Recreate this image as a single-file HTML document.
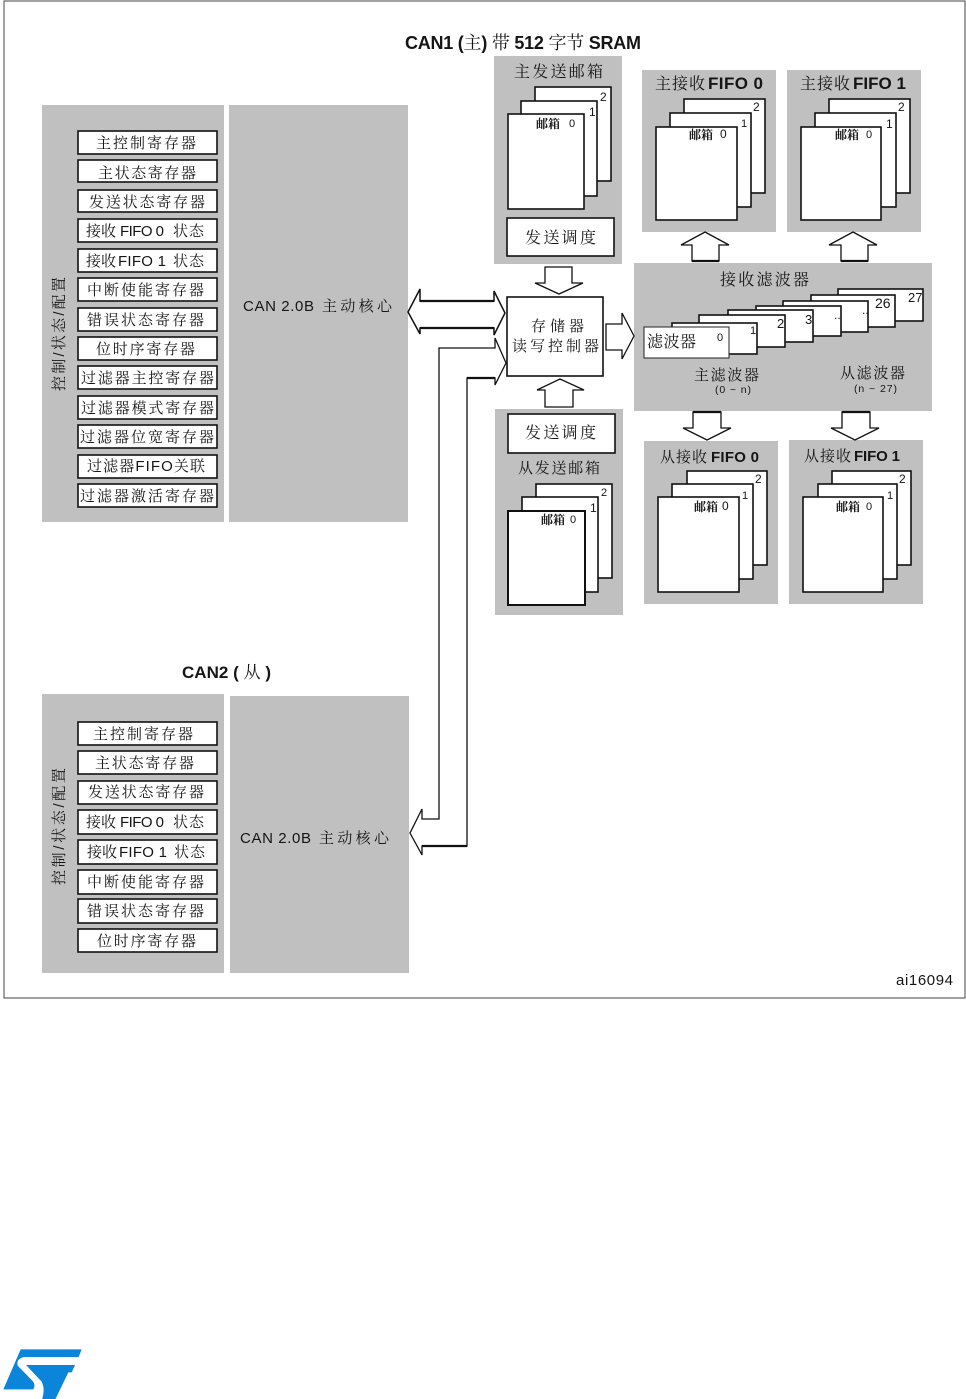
<!DOCTYPE html>
<html><head><meta charset="utf-8"><style>
html,body{margin:0;padding:0;background:#fff;width:966px;height:1399px;overflow:hidden}
svg{display:block}
text{font-family:"Liberation Sans","Noto Serif CJK SC",sans-serif;fill:#151515;font-size:15px}
.g{fill:#c0c0c0}
.b{fill:#fff;stroke:#111;stroke-width:1.6}
.a{fill:#fff;stroke:#111;stroke-width:1.3;stroke-linejoin:miter}
.t{stroke:#111;stroke-width:2.2;fill:none}
.s{font-size:11px}
.m{font-size:12px;font-weight:bold}
.f{font-weight:bold;font-size:15px}
</style></head><body>
<svg width="966" height="1399" viewBox="0 0 966 1399" xmlns="http://www.w3.org/2000/svg">
<rect x="4" y="1" width="961" height="997" fill="#fff" stroke="#444" stroke-width="1"/>

<!-- panels -->
<rect class="g" x="42" y="105" width="182" height="417"/>
<rect class="g" x="229" y="105" width="179" height="417"/>
<rect class="g" x="494" y="56" width="128" height="208"/>
<rect class="g" x="642" y="70" width="134" height="162"/>
<rect class="g" x="787" y="70" width="134" height="162"/>
<rect class="g" x="634" y="263" width="298" height="148"/>
<rect class="g" x="495" y="409" width="128" height="206"/>
<rect class="g" x="644" y="441" width="134" height="163"/>
<rect class="g" x="789" y="440" width="134" height="164"/>
<rect class="g" x="42" y="694" width="182" height="279"/>
<rect class="g" x="230" y="696" width="179" height="277"/>

<!-- titles -->
<text x="405" y="49" style="font-size:18px;font-weight:bold" textLength="236" lengthAdjust="spacing">CAN1 (<tspan font-weight="normal">主</tspan>) <tspan font-weight="normal">带</tspan> 512 <tspan font-weight="normal">字节</tspan> SRAM</text>
<text x="182" y="678" style="font-size:17px;font-weight:bold" textLength="89" lengthAdjust="spacing">CAN2 ( <tspan font-weight="normal">从</tspan> )</text>
<text x="896" y="985" style="font-size:15px" textLength="57" lengthAdjust="spacing">ai16094</text>

<!-- CAN1 registers -->
<rect class="b" x="78" y="131" width="139" height="23"/><text x="96" y="148" textLength="100">主控制寄存器</text>
<rect class="b" x="78" y="160" width="139" height="22"/><text x="98" y="178" textLength="98">主状态寄存器</text>
<rect class="b" x="78" y="190" width="139" height="22"/><text x="89" y="207" textLength="116">发送状态寄存器</text>
<rect class="b" x="78" y="219" width="139" height="23"/><text x="86" y="236" textLength="30">接收</text><text x="120" y="236" textLength="44">FIFO 0</text><text x="173" y="236" textLength="31">状态</text>
<rect class="b" x="78" y="249" width="139" height="23"/><text x="86" y="266" textLength="30">接收</text><text x="118" y="266" textLength="48">FIFO 1</text><text x="173" y="266" textLength="31">状态</text>
<rect class="b" x="78" y="278" width="139" height="23"/><text x="87" y="295" textLength="117">中断使能寄存器</text>
<rect class="b" x="78" y="308" width="139" height="23"/><text x="87" y="325" textLength="117">错误状态寄存器</text>
<rect class="b" x="78" y="337" width="139" height="23"/><text x="96" y="354" textLength="99">位时序寄存器</text>
<rect class="b" x="78" y="366" width="139" height="23"/><text x="81" y="383" textLength="133">过滤器主控寄存器</text>
<rect class="b" x="78" y="396" width="139" height="23"/><text x="81" y="413" textLength="133">过滤器模式寄存器</text>
<rect class="b" x="78" y="425" width="139" height="23"/><text x="80" y="442" textLength="134">过滤器位宽寄存器</text>
<rect class="b" x="78" y="455" width="139" height="23"/><text x="87" y="471" textLength="118">过滤器FIFO关联</text>
<rect class="b" x="78" y="484" width="139" height="23"/><text x="80" y="501" textLength="134">过滤器激活寄存器</text>

<!-- CAN2 registers -->
<rect class="b" x="78" y="722" width="139" height="23"/><text x="93" y="739" textLength="100">主控制寄存器</text>
<rect class="b" x="78" y="751" width="139" height="23"/><text x="95" y="768" textLength="99">主状态寄存器</text>
<rect class="b" x="78" y="781" width="139" height="23"/><text x="88" y="797" textLength="116">发送状态寄存器</text>
<rect class="b" x="78" y="810" width="139" height="24"/><text x="86" y="827" textLength="30">接收</text><text x="120" y="827" textLength="44">FIFO 0</text><text x="173" y="827" textLength="31">状态</text>
<rect class="b" x="78" y="840" width="139" height="24"/><text x="87" y="857" textLength="30">接收</text><text x="119" y="857" textLength="48">FIFO 1</text><text x="174" y="857" textLength="31">状态</text>
<rect class="b" x="78" y="870" width="139" height="24"/><text x="87" y="887" textLength="117">中断使能寄存器</text>
<rect class="b" x="78" y="899" width="139" height="24"/><text x="87" y="916" textLength="117">错误状态寄存器</text>
<rect class="b" x="78" y="929" width="139" height="23"/><text x="97" y="946" textLength="99">位时序寄存器</text>

<!-- vertical labels -->
<text transform="translate(64,391) rotate(-90)" textLength="114">控制/状态/配置</text>
<text transform="translate(64,885) rotate(-90)" textLength="117">控制/状态/配置</text>

<!-- core labels -->
<text x="243" y="311" textLength="71">CAN 2.0B</text><text x="322" y="311" textLength="70">主动核心</text>
<text x="240" y="843" textLength="71">CAN 2.0B</text><text x="319" y="843" textLength="70">主动核心</text>

<!-- main TX -->
<text x="514" y="77" style="font-size:16px" textLength="89">主发送邮箱</text>
<rect class="b" x="535" y="87" width="76" height="94"/><text x="600" y="101" style="font-size:12px">2</text>
<rect class="b" x="521" y="101" width="76" height="95"/><text x="589" y="116" style="font-size:12px">1</text>
<rect class="b" x="508" y="114" width="76" height="95"/><text x="536" y="128" class="m">邮箱</text><text x="569" y="127" class="s">0</text>
<rect class="b" x="507" y="218" width="107" height="38"/><text x="525" y="243" style="font-size:16px" textLength="71">发送调度</text>

<!-- main RX0 -->
<text x="655" y="89" style="font-size:16px" textLength="50">主接收</text><text x="708" y="89" class="f" style="font-size:17px" textLength="55">FIFO 0</text>
<rect class="b" x="684" y="99" width="81" height="94"/><text x="753" y="111" style="font-size:12px">2</text>
<rect class="b" x="670" y="113" width="81" height="94"/><text x="741" y="127" class="s">1</text>
<rect class="b" x="656" y="127" width="81" height="93"/><text x="689" y="139" class="m">邮箱</text><text x="720" y="138" style="font-size:12px">0</text>

<!-- main RX1 -->
<text x="800" y="89" style="font-size:16px" textLength="50">主接收</text><text x="853" y="89" class="f" style="font-size:17px" textLength="53">FIFO 1</text>
<rect class="b" x="829" y="99" width="81" height="94"/><text x="898" y="111" style="font-size:12px">2</text>
<rect class="b" x="815" y="113" width="81" height="94"/><text x="886" y="128" style="font-size:12px">1</text>
<rect class="b" x="801" y="127" width="80" height="93"/><text x="835" y="139" class="m">邮箱</text><text x="866" y="138" class="s">0</text>

<!-- filter bank -->
<text x="720" y="285" style="font-size:16px" textLength="89">接收滤波器</text>
<rect class="b" x="838" y="289" width="85" height="32"/><text x="908" y="302" style="font-size:13px">27</text>
<rect class="b" x="811" y="295" width="84" height="32"/><text x="875" y="308" style="font-size:14px">26</text>
<rect class="b" x="783" y="301" width="85" height="31"/><text x="862" y="314" style="font-size:12px">..</text>
<rect class="b" x="756" y="306" width="85" height="30"/><text x="834" y="319" style="font-size:12px">..</text>
<rect class="b" x="728" y="310" width="85" height="32"/><text x="805" y="324" style="font-size:13px">3</text>
<rect class="b" x="699" y="315" width="86" height="32"/><text x="777" y="328" style="font-size:13px">2</text>
<rect class="b" x="672" y="323" width="85" height="31"/><text x="750" y="334" class="s">1</text>
<rect x="644" y="327" width="85" height="31" fill="#fff" stroke="#222" stroke-width="1"/><text x="647" y="347" style="font-size:16px" textLength="49">滤波器</text><text x="717" y="341" class="s">0</text>
<text x="694" y="380" style="font-size:15px" textLength="65">主滤波器</text>
<text x="715" y="393" style="font-size:10.5px" textLength="36">(0 ~ n)</text>
<text x="840" y="378" style="font-size:15px" textLength="65">从滤波器</text>
<text x="854" y="392" style="font-size:10.5px" textLength="43">(n ~ 27)</text>

<!-- slave TX -->
<rect class="b" x="508" y="414" width="107" height="39"/><text x="525" y="438" style="font-size:16px" textLength="71">发送调度</text>
<text x="518" y="473" style="font-size:15px" textLength="82">从发送邮箱</text>
<rect class="b" x="536" y="484" width="76" height="94"/><text x="601" y="496" class="s">2</text>
<rect class="b" x="522" y="497" width="76" height="95"/><text x="590" y="512" style="font-size:12px">1</text>
<rect class="b" x="508" y="511" width="77" height="94" style="stroke-width:2"/><text x="541" y="524" class="m">邮箱</text><text x="570" y="523" class="s">0</text>

<!-- slave RX0 -->
<text x="660" y="462" style="font-size:15px" textLength="47">从接收</text><text x="711" y="462" class="f" style="font-size:15px" textLength="48">FIFO 0</text>
<rect class="b" x="687" y="471" width="80" height="94"/><text x="755" y="483" style="font-size:12px">2</text>
<rect class="b" x="672" y="484" width="81" height="95"/><text x="742" y="499" class="s">1</text>
<rect class="b" x="658" y="497" width="81" height="95"/><text x="694" y="511" class="m">邮箱</text><text x="722" y="510" style="font-size:12px">0</text>

<!-- slave RX1 -->
<text x="804" y="461" style="font-size:15px" textLength="47">从接收</text><text x="854" y="461" class="f" style="font-size:15px" textLength="46">FIFO 1</text>
<rect class="b" x="832" y="471" width="79" height="94"/><text x="899" y="483" style="font-size:12px">2</text>
<rect class="b" x="818" y="484" width="79" height="95"/><text x="887" y="499" class="s">1</text>
<rect class="b" x="803" y="497" width="80" height="95"/><text x="836" y="511" class="m">邮箱</text><text x="866" y="510" class="s">0</text>

<!-- controller -->
<rect class="b" x="507" y="297" width="96" height="79"/>
<text x="531" y="331" style="font-size:15px" textLength="53">存储器</text>
<text x="512" y="351" style="font-size:15px" textLength="87">读写控制器</text>

<!-- block arrows -->
<polygon class="a" points="545,267 572,267 572,283 583,283 559,294 535,283 545,283"/>
<polygon class="a" points="560,379 584,390 573,390 573,407 545,407 545,390 537,390"/>
<polygon class="a" points="606,324 622,324 622,313 634,336 622,359 622,350 606,350"/>
<polygon class="a" points="705,232 729,245 719,245 719,261 692,261 692,245 681,245"/>
<polygon class="a" points="853,232 877,245 868,245 868,261 841,261 841,245 829,245"/>
<polygon class="a" points="693,412 721,412 721,428 731,428 707,440 683,428 693,428"/>
<polygon class="a" points="842,412 870,412 870,428 879,428 855,440 831,428 842,428"/>
<polygon class="a" style="stroke-width:1.5" points="408,312 420,289 420,301 494,301 494,291 505,313 494,335 494,328 420,328 420,334"/>
<path class="t" d="M420,301H494M420,328H494M692,261H719M841,261H868M693,412H721M842,412H870"/>

<!-- shared bus between CAN2 and controller -->
<polygon class="a" points="506,363 495,338 495,348 439,348 439,819 422,819 422,809 410,833 422,855 422,846 467,846 467,378 495,378 495,385"/>
<path class="t" d="M467,378H495M422,846H467"/>

<!-- ST logo -->
<g transform="translate(0,1345) scale(0.3333)">
<path fill="#0a85d9" d="M62,13 H245 L236,36 H74 Q48,40 53,62 L98,108 Q108,120 100,133 H10 Z"/>
<path fill="#0a85d9" d="M78,60 H225 L215,82 H205 L165,165 H125 Q137,135 125,110 Z"/>
</g>
</svg>
</body></html>
